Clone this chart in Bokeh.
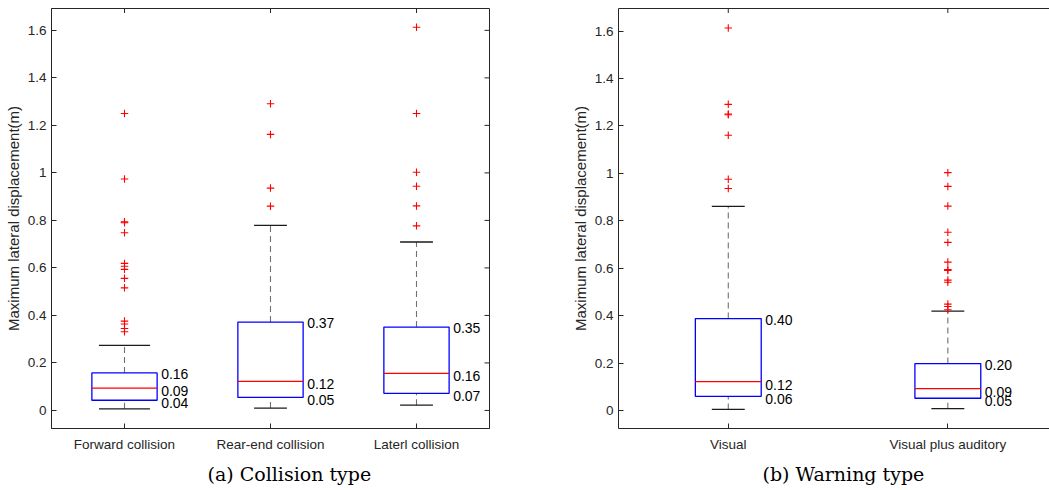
import math
from bokeh.plotting import figure
from bokeh.layouts import row
from bokeh.models import (ColumnDataSource, LinearAxis, FixedTicker,
                          PrintfTickFormatter, Range1d, Title)
from bokeh.embed import file_html
from bokeh.resources import INLINE

# ---------------- Panel (a): collision type ----------------
collision_types = ["Forward collision", "Rear-end collision", "Laterl collision"]
collision_lower = [0.007, 0.010, 0.022]
collision_q1 = [0.043, 0.055, 0.072]
collision_median = [0.094, 0.122, 0.156]
collision_q3 = [0.158, 0.372, 0.351]
collision_upper = [0.274, 0.779, 0.709]
collision_q1_labels = ["0.04", "0.05", "0.07"]
collision_median_labels = ["0.09", "0.12", "0.16"]
collision_q3_labels = ["0.16", "0.37", "0.35"]
forward_outliers = [1.250, 0.974, 0.794, 0.790, 0.748, 0.619, 0.607, 0.594,
                    0.556, 0.516, 0.376, 0.364, 0.345, 0.331]
rear_end_outliers = [1.291, 1.162, 0.936, 0.860]
lateral_outliers = [1.613, 1.250, 1.003, 0.944, 0.861, 0.777]

# ---------------- Panel (b): warning type ----------------
warning_types = ["Visual", "Visual plus auditory"]
warning_lower = [0.005, 0.008]
warning_q1 = [0.060, 0.052]
warning_median = [0.122, 0.093]
warning_q3 = [0.388, 0.198]
warning_upper = [0.861, 0.419]
warning_q1_labels = ["0.06", "0.05"]
warning_median_labels = ["0.12", "0.09"]
warning_q3_labels = ["0.40", "0.20"]
visual_outliers = [1.613, 1.291, 1.250, 1.247, 1.161, 0.975, 0.936]
visual_auditory_outliers = [1.003, 0.945, 0.862, 0.752, 0.709, 0.626, 0.595,
                            0.591, 0.550, 0.541, 0.449, 0.439, 0.425]

y_ticks = [0, 0.2, 0.4, 0.6, 0.8, 1.0, 1.2, 1.4, 1.6]

AX = "#262626"
SANS = "Liberation Sans"


def style_axis(ax):
    ax.axis_line_color = AX
    ax.major_tick_line_color = AX
    ax.major_tick_in = 5
    ax.major_tick_out = 0
    ax.minor_tick_line_color = None
    ax.major_label_text_color = AX
    ax.major_label_text_font = SANS
    ax.major_label_text_font_size = "13.5px"


def make_panel(cats, lower, q1, med, q3, upper, q1_lab, med_lab, q3_lab,
               outliers, box_w, cap_ws, x_end, y_range, width, border_left,
               border_right, border_top, caption, caption_offset, closed):
    pos = [i + 1 for i in range(len(cats))]
    p = figure(width=width, height=490, output_backend="svg",
               toolbar_location=None, x_range=Range1d(0.5, x_end),
               y_range=Range1d(*y_range), min_border_left=border_left,
               min_border_right=border_right, min_border_top=border_top,
               min_border_bottom=62, x_axis_location=None,
               y_axis_location=None)
    p.outline_line_color = AX if closed else None
    p.xgrid.visible = False
    p.ygrid.visible = False
    p.background_fill_color = "white"
    p.border_fill_color = "white"

    src = ColumnDataSource(dict(
        x=pos,
        left=[x - box_w / 2 for x in pos],
        right=[x + box_w / 2 for x in pos],
        cap_l=[x - c / 2 for x, c in zip(pos, cap_ws)],
        cap_r=[x + c / 2 for x, c in zip(pos, cap_ws)],
        lower=lower, q1=q1, med=med, q3=q3, upper=upper,
        q1_lab=q1_lab, med_lab=med_lab, q3_lab=q3_lab,
    ))

    # whiskers
    p.segment(x0="x", x1="x", y0="q3", y1="upper", source=src,
              line_color="#707070", line_dash="6 4", line_width=1.1)
    p.segment(x0="x", x1="x", y0="lower", y1="q1", source=src,
              line_color="#707070", line_dash="6 4", line_width=1.1)
    # caps
    p.segment(x0="cap_l", x1="cap_r", y0="upper", y1="upper", source=src,
              line_color="#1a1a1a", line_width=1.3)
    p.segment(x0="cap_l", x1="cap_r", y0="lower", y1="lower", source=src,
              line_color="#1a1a1a", line_width=1.3)
    # boxes
    p.quad(left="left", right="right", bottom="q1", top="q3", source=src,
           fill_color=None, line_color="#0000ff", line_width=1.3)
    # medians
    p.segment(x0="left", x1="right", y0="med", y1="med", source=src,
              line_color="#ff0000", line_width=1.2)
    # outliers
    ox, oy = [], []
    for x, vals in zip(pos, outliers):
        ox += [x] * len(vals)
        oy += vals
    p.scatter(ox, oy, marker="cross", size=7.5, line_color="#ff0000",
              line_width=1.1)
    # value labels
    for col, yc, dy in (("q3_lab", "q3", 1), ("med_lab", "med", 3), ("q1_lab", "q1", 3)):
        p.text(x="right", y=yc, text=col, source=src, x_offset=4, y_offset=dy,
               text_baseline="middle", text_align="left",
               text_font={"value": SANS}, text_font_size="14px",
               text_color="black")

    # inward tick marks on the top edge (and right edge for the closed box);
    # the markers are clipped by the frame so only the inner half shows
    p.scatter(pos, [y_range[1]] * len(pos), marker="dash", angle=math.pi / 2,
              size=9, line_color=AX, line_width=1)
    if closed:
        p.scatter([x_end] * len(y_ticks), y_ticks, marker="dash", size=10,
                  line_color=AX, line_width=1)
    else:
        top = LinearAxis(ticker=FixedTicker(ticks=[]))
        top.axis_line_color = AX
        top.major_tick_out = 0
        top.major_tick_in = 0
        top.major_label_standoff = 0
        top.minor_tick_line_color = None
        p.add_layout(top, "above")

    # axes
    yl = LinearAxis(ticker=FixedTicker(ticks=y_ticks),
                    formatter=PrintfTickFormatter(format="%g"),
                    axis_label="Maximum lateral displacement(m)")
    style_axis(yl)
    yl.major_label_standoff = 5
    yl.axis_label_standoff = 3
    yl.axis_label_text_font = SANS
    yl.axis_label_text_font_size = "15px"
    yl.axis_label_text_font_style = "normal"
    yl.axis_label_text_color = AX
    p.add_layout(yl, "left")

    xb = LinearAxis(ticker=FixedTicker(ticks=pos),
                    major_label_overrides={x: c for x, c in zip(pos, cats)})
    style_axis(xb)
    xb.major_label_standoff = 8
    p.add_layout(xb, "below")

    p.add_layout(Title(text=caption, align="left", offset=caption_offset,
                       standoff=12, vertical_align="bottom",
                       text_font="DejaVu Serif", text_font_size="19px",
                       text_font_style="normal", text_color="black"), "below")
    return p


pa = make_panel(collision_types, collision_lower, collision_q1,
                collision_median, collision_q3, collision_upper,
                collision_q1_labels, collision_median_labels,
                collision_q3_labels,
                [forward_outliers, rear_end_outliers, lateral_outliers],
                box_w=0.447, cap_ws=[0.35, 0.225, 0.225], x_end=3.5,
                y_range=(-0.076, 1.692), width=530, border_left=51,
                border_right=41, border_top=8, caption="(a) Collision type",
                caption_offset=156, closed=True)

pb = make_panel(warning_types, warning_lower, warning_q1, warning_median,
                warning_q3, warning_upper, warning_q1_labels,
                warning_median_labels, warning_q3_labels,
                [visual_outliers, visual_auditory_outliers],
                box_w=0.30, cap_ws=[0.15, 0.15], x_end=2.463,
                y_range=(-0.0755, 1.695), width=519, border_left=88,
                border_right=0, border_top=6, caption="(b) Warning type",
                caption_offset=144, closed=False)

layout = row(pa, pb)
open("out.html", "w").write(file_html(layout, INLINE))
